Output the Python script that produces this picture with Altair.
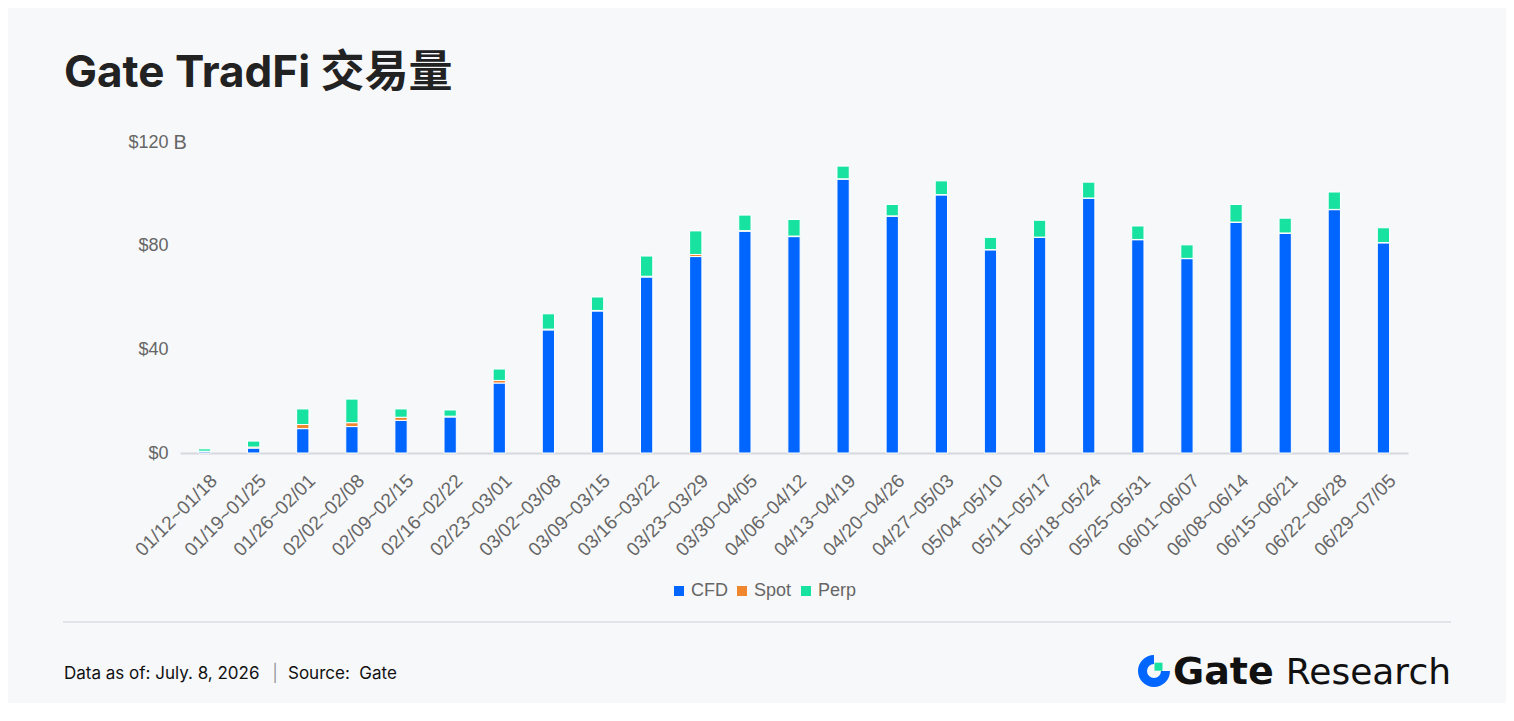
import altair as alt
import pandas as pd

TITLE = "Gate TradFi 交易量"

weeks = ["01/12~01/18", "01/19~01/25", "01/26~02/01", "02/02~02/08", "02/09~02/15",
         "02/16~02/22", "02/23~03/01", "03/02~03/08", "03/09~03/15", "03/16~03/22",
         "03/23~03/29", "03/30~04/05", "04/06~04/12", "04/13~04/19", "04/20~04/26",
         "04/27~05/03", "05/04~05/10", "05/11~05/17", "05/18~05/24", "05/25~05/31",
         "06/01~06/07", "06/08~06/14", "06/15~06/21", "06/22~06/28", "06/29~07/05"]
cfd = [0.5, 1.9, 9.4, 10.2, 12.6, 13.9, 27.0, 47.5, 54.8, 67.9, 75.8, 85.6, 83.5,
       105.7, 91.4, 99.6, 78.4, 83.2, 98.3, 82.3, 75.0, 89.0, 84.8, 93.9, 81.1]
spot = [0.2, 0.4, 1.6, 1.5, 1.2, 0.3, 1.0, 0.3, 0.2, 0.3, 0.8, 0.2, 0.2,
        0.1, 0.1, 0.1, 0.1, 0.1, 0.1, 0.1, 0.1, 0.1, 0.1, 0.1, 0.1]
perp = [0.9, 2.3, 6.0, 9.1, 3.2, 2.4, 4.4, 5.9, 5.2, 7.8, 9.1, 6.0, 6.4,
        4.9, 4.4, 5.3, 4.7, 6.5, 6.1, 5.2, 5.2, 6.8, 5.7, 6.7, 5.7]
series = ["CFD", "Spot", "Perp"]
colors = ["#0066FF", "#F0862E", "#17E2A0"]
y_ticks = [0, 40, 80, 120]

FOOT_DATE = "Data as of: July. 8, 2026"
FOOT_SRC = "Source:\u00a0 Gate"

rows = []
for i, w in enumerate(weeks):
    for k, (name, vals) in enumerate(zip(series, [cfd, spot, perp])):
        rows.append({"week": w, "series": name, "order": k, "value": vals[i]})
df = pd.DataFrame(rows)
one = pd.DataFrame([{"k": 0}])

AXIS_FONT = "Liberation Sans"
GRAY = "#666666"

bars = alt.Chart(df).mark_bar(stroke="white", strokeWidth=1).encode(
    x=alt.X("week:N", sort=weeks,
            scale=alt.Scale(paddingInner=0.75, paddingOuter=0.375),
            axis=alt.Axis(title=None, labelAngle=-45, labelFontSize=19, labelColor=GRAY,
                          labelFont=AXIS_FONT, labelPadding=18, labelOffset=3, ticks=False,
                          domainColor="#d5d8dc", domainWidth=2, labelOverlap=False,
                          labelBound=False, grid=False)),
    y=alt.Y("value:Q", stack="zero",
            scale=alt.Scale(domain=[0, 120], nice=False),
            axis=alt.Axis(values=y_ticks, labelExpr="'$' + datum.label", labelFontSize=18,
                          labelColor=GRAY, labelFont=AXIS_FONT, labelPadding=12,
                          ticks=False, domain=False, grid=False,
                          title="B", titleAngle=0, titleX=-7, titleY=0, titleAlign="left",
                          titleBaseline="middle", titleFont=AXIS_FONT, titleFontSize=20,
                          titleFontWeight="normal", titleColor=GRAY)),
    color=alt.Color("series:N", scale=alt.Scale(domain=series, range=colors),
                    legend=alt.Legend(title=None, orient="none", legendX=490, legendY=440,
                                      direction="horizontal", symbolType="square",
                                      symbolSize=100, symbolStrokeWidth=0,
                                      labelFontSize=18, labelColor=GRAY, labelFont=AXIS_FONT,
                                      columnPadding=5, labelOffset=3, padding=0)),
    order=alt.Order("order:Q"),
)

title = alt.Chart(one).mark_text(text=TITLE, font="Inter, Noto Sans CJK SC", fontSize=44,
                                 fontWeight="bold", color="#222222", align="left",
                                 baseline="alphabetic").encode(
    x=alt.value(-116), y=alt.value(-55))

sep = alt.Chart(one).mark_rule(color="#d9dce0", strokeWidth=1.5).encode(
    x=alt.value(-117), x2=alt.value(1271), y=alt.value(480))

foot1 = alt.Chart(one).mark_text(text=FOOT_DATE, font="Inter", fontSize=17, color="#111111",
                                 align="left", baseline="alphabetic").encode(
    x=alt.value(-116), y=alt.value(537))
foot_bar = alt.Chart(one).mark_text(text="|", font="Inter", fontSize=17, color="#9a9a9a",
                                    align="center", baseline="alphabetic").encode(
    x=alt.value(95), y=alt.value(537))
foot2 = alt.Chart(one).mark_text(text=FOOT_SRC, font="Inter", fontSize=17, color="#111111",
                                 align="left", baseline="alphabetic").encode(
    x=alt.value(108), y=alt.value(537))

logo_arc = alt.Chart(one).mark_arc(radius=16, radius2=7, theta=1.5708, theta2=6.2832,
                                   color="#0066FF").encode(
    x=alt.value(974), y=alt.value(529))
logo_sq = alt.Chart(one).mark_square(size=64, color="#17E2A0", opacity=1).encode(
    x=alt.value(978.5), y=alt.value(524.7))
logo_gate = alt.Chart(one).mark_text(text="Gate", font="DejaVu Sans", fontSize=38,
                                     fontWeight="bold", color="#111111", align="left",
                                     baseline="alphabetic").encode(
    x=alt.value(993), y=alt.value(542))
logo_res = alt.Chart(one).mark_text(text="Research", font="DejaVu Sans", fontSize=36,
                                    color="#111111", align="right",
                                    baseline="alphabetic").encode(
    x=alt.value(1271), y=alt.value(542))

chart = alt.layer(bars, title, sep, foot1, foot_bar, foot2, logo_arc, logo_sq, logo_gate,
                  logo_res).properties(
    width=1228, height=311,
    autosize=alt.AutoSizeParams(type="none"),
    padding={"left": 172, "top": 134, "right": 98, "bottom": 250},
    background="#f7f8fa",
).configure_view(stroke=None)

chart.save("out.html", embed_options={"renderer": "svg", "actions": False})
